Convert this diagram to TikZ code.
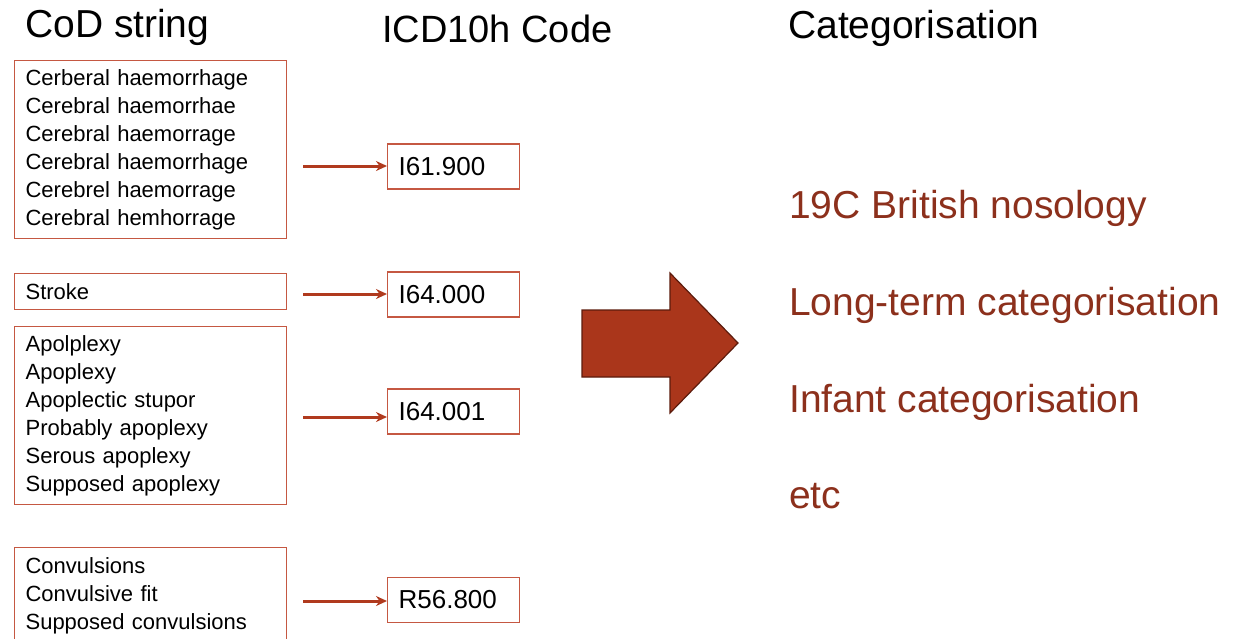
\documentclass[tikz,border=0pt]{standalone}
\usepackage{fontspec}
\setmainfont{Liberation Sans}
\usepackage{tikz}
\usetikzlibrary{arrows.meta}
\definecolor{BoxRed}{RGB}{197,88,66}
\definecolor{LinkRed}{RGB}{176,58,30}
\definecolor{ArrowRed}{RGB}{170,54,27}
\definecolor{ArrowEdge}{RGB}{92,27,12}
\definecolor{CatRed}{RGB}{140,48,28}

\begin{document}
\begin{tikzpicture}[x=1pt,y=-1pt,
	head/.style={anchor=base west,inner sep=0pt,font=\fontsize{39}{42}\selectfont},
	strings/.style={draw=BoxRed,line width=1.2pt,anchor=north west,minimum width=272pt,
		text width=250pt,inner xsep=11pt,inner ysep=0pt,align=left,
		font=\fontsize{22}{28}\selectfont},
	code/.style={draw=BoxRed,line width=1.2pt,anchor=west,minimum width=132pt,minimum height=45pt,
		text width=110pt,inner xsep=11pt,inner ysep=0pt,align=left,font=\fontsize{26}{30}\selectfont},
	link/.style={draw=LinkRed,line width=3pt,-{Stealth[length=11pt,width=10pt]}},
	cat/.style={anchor=base west,inner sep=0pt,text=CatRed,font=\fontsize{39}{42}\selectfont}]

	\useasboundingbox (0,0) rectangle (1250,638);
	\clip (0,0) rectangle (1250,638);

	% headings
	\node[head] (hCoD) at (25,37) {CoD string};
	\node[head,font=\fontsize{38}{42}\selectfont] (hICD) at (382,42) {ICD10h Code};
	\node[head] (hCat) at (788,38) {Categorisation};

	% CoD strings
	\node[strings,minimum height=178pt] (sA) at (14,60) {Cerberal haemorrhage\\Cerebral haemorrhae\\Cerebral haemorrage\\Cerebral haemorrhage\\Cerebrel haemorrage\\Cerebral hemhorrage};
	\node[strings,minimum height=36pt] (sB) at (14,273) {Stroke};
	\node[strings,minimum height=178pt] (sC) at (14,326) {Apolplexy\\Apoplexy\\Apoplectic stupor\\Probably apoplexy\\Serous apoplexy\\Supposed apoplexy};
	\node[strings,minimum height=97pt] (sD) at (14,547) {Convulsions\\Convulsive fit\\Supposed convulsions};

	% codes
	\node[code] (cA) at (387,166.5) {I61.900};
	\node[code] (cB) at (387,294.5) {I64.000};
	\node[code] (cC) at (387,411.5) {I64.001};
	\node[code] (cD) at (387,600) {R56.800};

	\coordinate (tA) at (303,166);
	\coordinate (tB) at (303,294);
	\coordinate (tC) at (303,417);
	\coordinate (tD) at (303,601);

	\draw[link] (tA) -- (tA -| cA.west);
	\draw[link] (tB) -- (tB -| cB.west);
	\draw[link] (tC) -- (tC -| cC.west);
	\draw[link] (tD) -- (tD -| cD.west);

	% big arrow
	\draw[fill=ArrowRed,draw=ArrowEdge,line width=1.2pt,line join=miter]
		(582,310) -- (670,310) -- (670,273) -- (738,343) -- (670,413) -- (670,377) -- (582,377) -- cycle;

	% categorisations
	\node[cat] (kA) at (789,218) {19C British nosology};
	\node[cat] (kB) at (789,315) {Long-term categorisation};
	\node[cat] (kC) at (789,412) {Infant categorisation};
	\node[cat] (kD) at (789,508) {etc};

\end{tikzpicture}
\end{document}
